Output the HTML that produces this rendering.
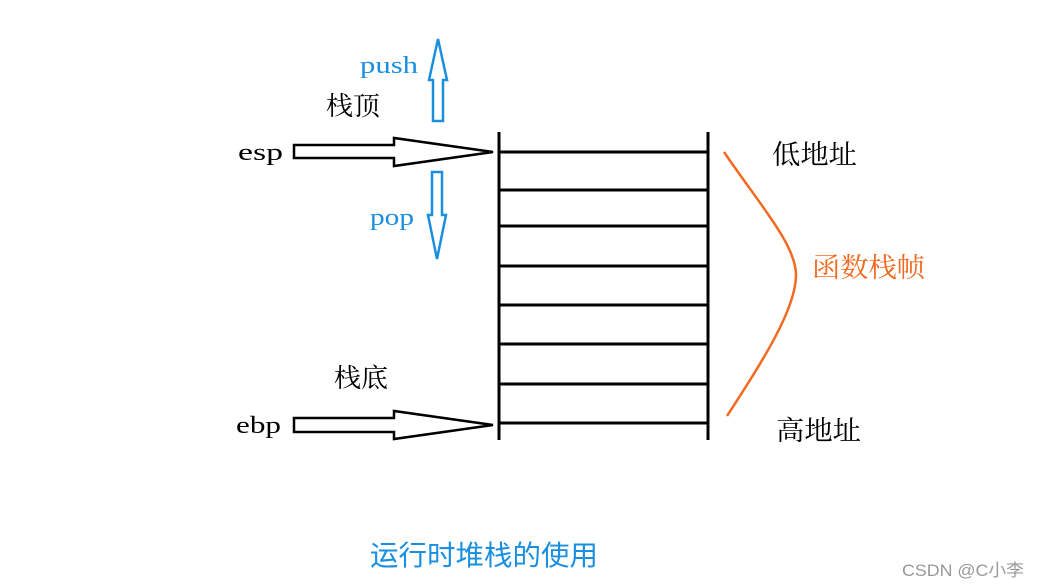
<!DOCTYPE html>
<html><head><meta charset="utf-8"><style>
html,body{margin:0;padding:0;background:#fff;width:1039px;height:587px;overflow:hidden}
svg text{font-family:"Liberation Serif","Noto Serif CJK SC",serif}
</style></head><body>
<svg width="1039" height="587" viewBox="0 0 1039 587" xmlns="http://www.w3.org/2000/svg">
<g stroke="#000" stroke-width="3" fill="none">
<line x1="499" y1="132" x2="499" y2="440"/>
<line x1="708" y1="132" x2="708" y2="440"/>
<line x1="499" y1="152" x2="708" y2="152"/>
<line x1="499" y1="190" x2="708" y2="190"/>
<line x1="499" y1="226" x2="708" y2="226"/>
<line x1="499" y1="266" x2="708" y2="266"/>
<line x1="499" y1="305" x2="708" y2="305"/>
<line x1="499" y1="344" x2="708" y2="344"/>
<line x1="499" y1="384" x2="708" y2="384"/>
<line x1="499" y1="423" x2="708" y2="423"/>
</g>
<g stroke="#000" stroke-width="2.5" fill="#fff">
<polygon points="294,145 394,145 394,138 493,152 394,166 394,158 294,158"/>
<polygon points="294,418 394,418 394,411 493,425 394,439 394,432 294,432"/>
</g>
<g stroke="#1a8fe0" stroke-width="2.5" fill="#fff">
<polygon points="433,121 433,80 429,80 438,39 447,80 443,80 443,121"/>
<polygon points="432,172 442,172 442,215 446,215 437,259 428,215 432,215"/>
</g>
<path d="M724,152 C760,205 796,245 796,275 C796,310 760,365 727,416" stroke="#f26a22" stroke-width="2.5" fill="none"/>
<g font-size="24" fill="#000">
<text x="238" y="160" textLength="45" lengthAdjust="spacingAndGlyphs">esp</text>
<text x="236" y="433" textLength="45" lengthAdjust="spacingAndGlyphs">ebp</text>
<text x="326" y="115" font-size="26" textLength="54" lengthAdjust="spacingAndGlyphs">栈顶</text>
<text x="334" y="387" font-size="26" textLength="54" lengthAdjust="spacingAndGlyphs">栈底</text>
<text x="772" y="164" font-size="27" textLength="85" lengthAdjust="spacingAndGlyphs">低地址</text>
<text x="776" y="440" font-size="27" textLength="85" lengthAdjust="spacingAndGlyphs">高地址</text>
</g>
<text x="360" y="73" font-size="24" fill="#1a8fe0" textLength="58" lengthAdjust="spacingAndGlyphs">push</text>
<text x="370" y="225" font-size="24" fill="#1a8fe0" textLength="44" lengthAdjust="spacingAndGlyphs">pop</text>
<text x="812" y="277" font-size="27" fill="#f26a22" textLength="113" lengthAdjust="spacingAndGlyphs">函数栈帧</text>
<text x="370" y="565" font-size="28" fill="#1a8fe0" style="font-family:'Liberation Sans','Noto Sans CJK SC',sans-serif" textLength="228" lengthAdjust="spacingAndGlyphs">运行时堆栈的使用</text>
<text x="902" y="576" font-size="17" fill="#999" style="font-family:'Liberation Sans','Noto Sans CJK SC',sans-serif" textLength="122" lengthAdjust="spacingAndGlyphs">CSDN @C小李</text>
</svg>
</body></html>
